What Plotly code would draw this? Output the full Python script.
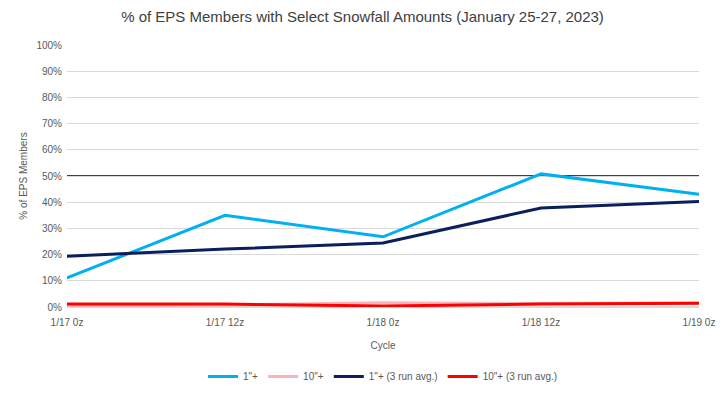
import plotly.graph_objects as go

cycles = ["1/17 0z", "1/17 12z", "1/18 0z", "1/18 12z", "1/19 0z"]
one_inch = [11.1, 35.0, 26.8, 50.8, 43.0]
ten_inch = [0.3, 0.8, 1.6, 1.3, 1.5]
one_inch_avg = [19.4, 22.1, 24.4, 37.8, 40.3]
ten_inch_avg = [1.1, 1.1, 0.4, 1.1, 1.4]
yticks = list(range(0, 101, 10))
ytick_text = [f"{v}%" for v in yticks]

fig = go.Figure()
fig.add_trace(go.Scatter(x=cycles, y=one_inch, mode="lines", name='1"+',
                         line=dict(color="#00B0F0", width=3)))
fig.add_trace(go.Scatter(x=cycles, y=ten_inch, mode="lines", name='10"+',
                         line=dict(color="#F4B6BA", width=3)))
fig.add_trace(go.Scatter(x=cycles, y=one_inch_avg, mode="lines", name='1"+ (3 run avg.)',
                         line=dict(color="#0A1F5C", width=3)))
fig.add_trace(go.Scatter(x=cycles, y=ten_inch_avg, mode="lines", name='10"+ (3 run avg.)',
                         line=dict(color="#FF0000", width=3)))

fig.add_shape(type="line", xref="paper", x0=0, x1=1, yref="y", y0=50, y1=50,
              line=dict(color="black", width=1.4), layer="between")

fig.update_layout(
    width=709, height=382,
    margin=dict(l=59, r=18, t=37, b=83, autoexpand=False),
    paper_bgcolor="white", plot_bgcolor="white",
    font=dict(family="Liberation Sans, Arial, sans-serif", color="#595959", size=10),
    title=dict(text="% of EPS Members with Select Snowfall Amounts (January 25-27, 2023)",
               x=0.5, xanchor="center", y=0.99, yanchor="top",
               font=dict(size=15, color="#404040")),
    xaxis=dict(title=dict(text="Cycle", font=dict(size=10, color="#595959"), standoff=14),
               type="category", range=[0, 4], automargin=False,
               showgrid=False, showline=False, ticks="", ticklabelstandoff=8,
               tickfont=dict(size=10, color="#595959")),
    yaxis=dict(title=dict(text="% of EPS Members", font=dict(size=10, color="#595959"), standoff=6),
               range=[0, 100], tickvals=yticks, ticktext=ytick_text, automargin=False,
               showgrid=True, gridcolor="#D9D9D9", gridwidth=1, zeroline=True,
               zerolinecolor="#D9D9D9", showline=False, ticks="", ticklabelstandoff=4,
               tickfont=dict(size=10, color="#595959")),
    legend=dict(orientation="h", x=0.5, xanchor="center", y=-0.21, yanchor="top",
                font=dict(size=10, color="#595959"), traceorder="normal"),
    showlegend=True,
)

fig.write_html("out.html")
